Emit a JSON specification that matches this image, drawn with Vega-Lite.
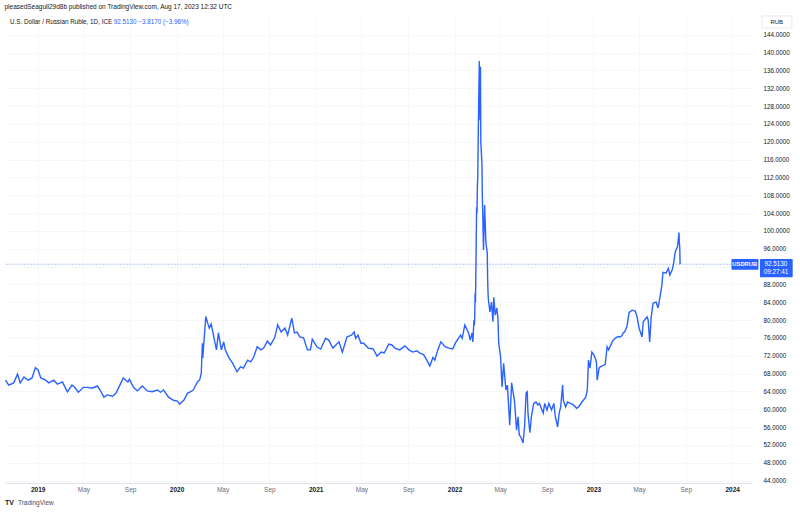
{
  "$schema": "https://vega.github.io/schema/vega-lite/v6.json",
  "width": 747,
  "height": 469,
  "autosize": {"type": "none"},
  "padding": {"left": 5, "top": 14, "right": 48, "bottom": 33},
  "background": "#ffffff",
  "title": {
    "text": "pleasedSeagull29d8b published on TradingView.com, Aug 17, 2023 12:32 UTC",
    "anchor": "start",
    "fontSize": 6.5,
    "fontWeight": "normal",
    "font": "Liberation Sans",
    "color": "#131722",
    "offset": 4
  },
  "config": {
    "view": {"stroke": null},
    "font": "Liberation Sans",
    "axis": {"labelFont": "Liberation Sans"}
  },
  "datasets": {
    "usdrub": [
      {"date": "2018-10-08", "close": 66.5},
      {"date": "2018-10-17", "close": 65.4},
      {"date": "2018-10-30", "close": 65.9},
      {"date": "2018-11-09", "close": 67.9},
      {"date": "2018-11-16", "close": 65.9},
      {"date": "2018-11-26", "close": 67.2},
      {"date": "2018-12-07", "close": 66.5},
      {"date": "2018-12-17", "close": 67.0},
      {"date": "2018-12-26", "close": 69.3},
      {"date": "2019-01-02", "close": 68.8},
      {"date": "2019-01-09", "close": 67.0},
      {"date": "2019-01-22", "close": 66.5},
      {"date": "2019-01-30", "close": 65.9},
      {"date": "2019-02-12", "close": 66.5},
      {"date": "2019-02-22", "close": 65.6},
      {"date": "2019-03-07", "close": 66.1},
      {"date": "2019-03-20", "close": 63.9},
      {"date": "2019-04-01", "close": 65.4},
      {"date": "2019-04-08", "close": 64.9},
      {"date": "2019-04-18", "close": 63.8},
      {"date": "2019-05-01", "close": 64.9},
      {"date": "2019-05-13", "close": 64.9},
      {"date": "2019-05-24", "close": 64.7},
      {"date": "2019-06-07", "close": 65.2},
      {"date": "2019-06-14", "close": 64.3},
      {"date": "2019-06-24", "close": 62.7},
      {"date": "2019-07-03", "close": 63.2},
      {"date": "2019-07-17", "close": 62.9},
      {"date": "2019-07-26", "close": 63.6},
      {"date": "2019-08-05", "close": 65.4},
      {"date": "2019-08-14", "close": 67.0},
      {"date": "2019-08-26", "close": 66.1},
      {"date": "2019-08-30", "close": 66.7},
      {"date": "2019-09-10", "close": 64.9},
      {"date": "2019-09-20", "close": 64.1},
      {"date": "2019-10-03", "close": 65.2},
      {"date": "2019-10-16", "close": 64.1},
      {"date": "2019-10-29", "close": 63.9},
      {"date": "2019-11-12", "close": 64.3},
      {"date": "2019-11-20", "close": 63.8},
      {"date": "2019-11-28", "close": 64.3},
      {"date": "2019-12-11", "close": 62.7},
      {"date": "2019-12-24", "close": 62.0},
      {"date": "2020-01-03", "close": 61.8},
      {"date": "2020-01-09", "close": 61.1},
      {"date": "2020-01-20", "close": 62.0},
      {"date": "2020-01-30", "close": 63.6},
      {"date": "2020-02-06", "close": 63.9},
      {"date": "2020-02-14", "close": 64.3},
      {"date": "2020-02-25", "close": 66.1},
      {"date": "2020-03-02", "close": 66.6},
      {"date": "2020-03-06", "close": 68.0},
      {"date": "2020-03-09", "close": 74.8},
      {"date": "2020-03-10", "close": 71.5},
      {"date": "2020-03-12", "close": 74.0},
      {"date": "2020-03-18", "close": 80.8},
      {"date": "2020-03-23", "close": 79.3},
      {"date": "2020-03-27", "close": 78.2},
      {"date": "2020-04-01", "close": 79.1},
      {"date": "2020-04-07", "close": 76.6},
      {"date": "2020-04-15", "close": 73.3},
      {"date": "2020-04-20", "close": 77.1},
      {"date": "2020-04-28", "close": 73.3},
      {"date": "2020-05-04", "close": 75.1},
      {"date": "2020-05-08", "close": 73.3},
      {"date": "2020-05-18", "close": 71.5},
      {"date": "2020-05-27", "close": 70.4},
      {"date": "2020-06-08", "close": 68.4},
      {"date": "2020-06-17", "close": 69.5},
      {"date": "2020-06-25", "close": 69.2},
      {"date": "2020-07-06", "close": 71.0},
      {"date": "2020-07-14", "close": 70.6},
      {"date": "2020-07-22", "close": 71.7},
      {"date": "2020-07-31", "close": 74.0},
      {"date": "2020-08-10", "close": 73.3},
      {"date": "2020-08-17", "close": 73.7},
      {"date": "2020-08-27", "close": 75.3},
      {"date": "2020-09-04", "close": 74.4},
      {"date": "2020-09-15", "close": 76.0},
      {"date": "2020-09-23", "close": 78.9},
      {"date": "2020-10-02", "close": 77.3},
      {"date": "2020-10-12", "close": 78.2},
      {"date": "2020-10-19", "close": 76.6},
      {"date": "2020-10-30", "close": 80.4},
      {"date": "2020-11-06", "close": 77.1},
      {"date": "2020-11-13", "close": 77.3},
      {"date": "2020-11-20", "close": 76.2},
      {"date": "2020-11-30", "close": 76.0},
      {"date": "2020-12-10", "close": 73.3},
      {"date": "2020-12-18", "close": 73.3},
      {"date": "2020-12-23", "close": 75.7},
      {"date": "2021-01-04", "close": 74.0},
      {"date": "2021-01-14", "close": 73.5},
      {"date": "2021-01-27", "close": 75.9},
      {"date": "2021-02-04", "close": 75.5},
      {"date": "2021-02-15", "close": 73.7},
      {"date": "2021-02-23", "close": 74.4},
      {"date": "2021-03-03", "close": 75.1},
      {"date": "2021-03-12", "close": 72.8},
      {"date": "2021-03-24", "close": 76.2},
      {"date": "2021-04-05", "close": 76.6},
      {"date": "2021-04-12", "close": 77.3},
      {"date": "2021-04-16", "close": 75.9},
      {"date": "2021-04-22", "close": 76.6},
      {"date": "2021-04-30", "close": 74.8},
      {"date": "2021-05-07", "close": 74.8},
      {"date": "2021-05-19", "close": 73.7},
      {"date": "2021-06-01", "close": 73.5},
      {"date": "2021-06-11", "close": 71.9},
      {"date": "2021-06-22", "close": 72.8},
      {"date": "2021-06-30", "close": 72.6},
      {"date": "2021-07-12", "close": 74.6},
      {"date": "2021-07-20", "close": 74.4},
      {"date": "2021-07-28", "close": 73.7},
      {"date": "2021-08-10", "close": 73.3},
      {"date": "2021-08-23", "close": 74.2},
      {"date": "2021-09-03", "close": 73.3},
      {"date": "2021-09-13", "close": 72.8},
      {"date": "2021-09-24", "close": 73.1},
      {"date": "2021-10-01", "close": 72.6},
      {"date": "2021-10-12", "close": 72.2},
      {"date": "2021-10-20", "close": 71.0},
      {"date": "2021-10-28", "close": 69.7},
      {"date": "2021-11-05", "close": 71.6},
      {"date": "2021-11-10", "close": 71.0},
      {"date": "2021-11-18", "close": 73.3},
      {"date": "2021-11-26", "close": 75.1},
      {"date": "2021-12-07", "close": 74.0},
      {"date": "2021-12-17", "close": 73.7},
      {"date": "2021-12-27", "close": 73.5},
      {"date": "2022-01-03", "close": 74.8},
      {"date": "2022-01-11", "close": 75.9},
      {"date": "2022-01-17", "close": 76.6},
      {"date": "2022-01-21", "close": 75.9},
      {"date": "2022-01-28", "close": 78.9},
      {"date": "2022-02-07", "close": 77.1},
      {"date": "2022-02-11", "close": 75.5},
      {"date": "2022-02-16", "close": 77.1},
      {"date": "2022-02-18", "close": 75.1},
      {"date": "2022-02-21", "close": 80.0},
      {"date": "2022-02-22", "close": 78.8},
      {"date": "2022-02-23", "close": 80.5},
      {"date": "2022-02-24", "close": 86.0},
      {"date": "2022-02-25", "close": 84.0},
      {"date": "2022-02-28", "close": 105.3},
      {"date": "2022-03-01", "close": 104.0},
      {"date": "2022-03-02", "close": 110.0},
      {"date": "2022-03-03", "close": 112.0},
      {"date": "2022-03-04", "close": 120.0},
      {"date": "2022-03-07", "close": 138.1},
      {"date": "2022-03-08", "close": 133.0},
      {"date": "2022-03-09", "close": 124.8},
      {"date": "2022-03-10", "close": 136.8},
      {"date": "2022-03-11", "close": 120.0},
      {"date": "2022-03-14", "close": 115.0},
      {"date": "2022-03-15", "close": 108.0},
      {"date": "2022-03-16", "close": 104.0},
      {"date": "2022-03-17", "close": 100.0},
      {"date": "2022-03-18", "close": 95.7},
      {"date": "2022-03-21", "close": 105.8},
      {"date": "2022-03-22", "close": 103.0},
      {"date": "2022-03-23", "close": 100.9},
      {"date": "2022-03-24", "close": 98.0},
      {"date": "2022-03-25", "close": 97.0},
      {"date": "2022-03-28", "close": 95.0},
      {"date": "2022-03-29", "close": 89.0},
      {"date": "2022-03-30", "close": 86.0},
      {"date": "2022-03-31", "close": 84.5},
      {"date": "2022-04-04", "close": 81.8},
      {"date": "2022-04-08", "close": 84.0},
      {"date": "2022-04-12", "close": 79.6},
      {"date": "2022-04-14", "close": 85.1},
      {"date": "2022-04-18", "close": 81.1},
      {"date": "2022-04-22", "close": 82.7},
      {"date": "2022-04-25", "close": 80.4},
      {"date": "2022-04-27", "close": 74.8},
      {"date": "2022-05-02", "close": 71.7},
      {"date": "2022-05-06", "close": 65.0},
      {"date": "2022-05-10", "close": 70.3},
      {"date": "2022-05-16", "close": 64.3},
      {"date": "2022-05-20", "close": 65.4},
      {"date": "2022-05-26", "close": 56.4},
      {"date": "2022-05-31", "close": 65.9},
      {"date": "2022-06-06", "close": 62.7},
      {"date": "2022-06-08", "close": 61.4},
      {"date": "2022-06-13", "close": 55.3},
      {"date": "2022-06-17", "close": 58.3},
      {"date": "2022-06-20", "close": 54.2},
      {"date": "2022-06-24", "close": 53.8},
      {"date": "2022-06-30", "close": 52.4},
      {"date": "2022-07-04", "close": 56.0},
      {"date": "2022-07-08", "close": 63.6},
      {"date": "2022-07-11", "close": 63.9},
      {"date": "2022-07-13", "close": 59.1},
      {"date": "2022-07-18", "close": 54.7},
      {"date": "2022-07-22", "close": 58.3},
      {"date": "2022-07-28", "close": 61.3},
      {"date": "2022-08-03", "close": 61.6},
      {"date": "2022-08-08", "close": 60.9},
      {"date": "2022-08-12", "close": 61.3},
      {"date": "2022-08-22", "close": 59.1},
      {"date": "2022-08-26", "close": 61.3},
      {"date": "2022-09-01", "close": 59.8},
      {"date": "2022-09-06", "close": 61.3},
      {"date": "2022-09-13", "close": 59.8},
      {"date": "2022-09-19", "close": 61.3},
      {"date": "2022-09-23", "close": 58.3},
      {"date": "2022-09-29", "close": 56.0},
      {"date": "2022-10-03", "close": 59.1},
      {"date": "2022-10-07", "close": 60.5},
      {"date": "2022-10-12", "close": 65.4},
      {"date": "2022-10-14", "close": 62.0},
      {"date": "2022-10-20", "close": 60.5},
      {"date": "2022-10-25", "close": 61.6},
      {"date": "2022-11-02", "close": 61.3},
      {"date": "2022-11-10", "close": 60.9},
      {"date": "2022-11-18", "close": 60.2},
      {"date": "2022-11-23", "close": 60.5},
      {"date": "2022-12-02", "close": 61.6},
      {"date": "2022-12-12", "close": 62.7},
      {"date": "2022-12-16", "close": 64.3},
      {"date": "2022-12-19", "close": 71.0},
      {"date": "2022-12-23", "close": 69.2},
      {"date": "2022-12-28", "close": 72.8},
      {"date": "2023-01-03", "close": 72.1},
      {"date": "2023-01-09", "close": 70.6},
      {"date": "2023-01-11", "close": 66.5},
      {"date": "2023-01-16", "close": 69.2},
      {"date": "2023-01-19", "close": 69.5},
      {"date": "2023-01-27", "close": 69.8},
      {"date": "2023-02-01", "close": 70.0},
      {"date": "2023-02-06", "close": 74.0},
      {"date": "2023-02-10", "close": 73.3},
      {"date": "2023-02-20", "close": 75.2},
      {"date": "2023-02-27", "close": 75.9},
      {"date": "2023-03-07", "close": 76.3},
      {"date": "2023-03-13", "close": 76.2},
      {"date": "2023-03-17", "close": 76.5},
      {"date": "2023-03-20", "close": 77.1},
      {"date": "2023-03-24", "close": 77.3},
      {"date": "2023-03-30", "close": 78.5},
      {"date": "2023-04-05", "close": 81.7},
      {"date": "2023-04-13", "close": 82.2},
      {"date": "2023-04-21", "close": 82.0},
      {"date": "2023-04-26", "close": 80.7},
      {"date": "2023-05-01", "close": 78.2},
      {"date": "2023-05-09", "close": 76.2},
      {"date": "2023-05-12", "close": 79.6},
      {"date": "2023-05-22", "close": 80.7},
      {"date": "2023-05-25", "close": 80.0},
      {"date": "2023-05-29", "close": 75.1},
      {"date": "2023-06-02", "close": 80.7},
      {"date": "2023-06-07", "close": 83.8},
      {"date": "2023-06-15", "close": 84.0},
      {"date": "2023-06-20", "close": 82.7},
      {"date": "2023-06-26", "close": 85.6},
      {"date": "2023-06-30", "close": 87.8},
      {"date": "2023-07-03", "close": 90.7},
      {"date": "2023-07-11", "close": 90.5},
      {"date": "2023-07-17", "close": 91.6},
      {"date": "2023-07-21", "close": 90.1},
      {"date": "2023-07-27", "close": 91.2},
      {"date": "2023-07-31", "close": 92.7},
      {"date": "2023-08-04", "close": 95.2},
      {"date": "2023-08-10", "close": 96.5},
      {"date": "2023-08-11", "close": 97.0},
      {"date": "2023-08-14", "close": 99.6},
      {"date": "2023-08-15", "close": 97.4},
      {"date": "2023-08-16", "close": 96.3},
      {"date": "2023-08-17", "close": 92.513}
    ]
  },
  "layer": [
    {
      "data": {"name": "usdrub"},
      "mark": {"type": "line", "color": "#2962FF", "strokeWidth": 1.4, "clip": true},
      "encoding": {
        "x": {
          "field": "date",
          "type": "temporal",
          "scale": {"type": "utc", "domain": [{"year": 2018, "month": 10, "date": 7, "utc": true}, {"year": 2024, "month": 2, "date": 22, "utc": true}]},
          "axis": {
            "title": null,
            "values": [
              {"year": 2019, "month": 1, "date": 1, "utc": true},
              {"year": 2019, "month": 5, "date": 1, "utc": true},
              {"year": 2019, "month": 9, "date": 1, "utc": true},
              {"year": 2020, "month": 1, "date": 1, "utc": true},
              {"year": 2020, "month": 5, "date": 1, "utc": true},
              {"year": 2020, "month": 9, "date": 1, "utc": true},
              {"year": 2021, "month": 1, "date": 1, "utc": true},
              {"year": 2021, "month": 5, "date": 1, "utc": true},
              {"year": 2021, "month": 9, "date": 1, "utc": true},
              {"year": 2022, "month": 1, "date": 1, "utc": true},
              {"year": 2022, "month": 5, "date": 1, "utc": true},
              {"year": 2022, "month": 9, "date": 1, "utc": true},
              {"year": 2023, "month": 1, "date": 1, "utc": true},
              {"year": 2023, "month": 5, "date": 1, "utc": true},
              {"year": 2023, "month": 9, "date": 1, "utc": true},
              {"year": 2024, "month": 1, "date": 1, "utc": true}
            ],
            "tickCount": 40,
            "labelExpr": "utcmonth(datum.value) == 0 ? utcFormat(datum.value, '%Y') : utcFormat(datum.value, '%b')",
            "labelColor": {"condition": {"test": "utcmonth(datum.value) == 0", "value": "#131722"}, "value": "#6a6d78"},
            "labelFontWeight": {"condition": {"test": "utcmonth(datum.value) == 0", "value": "bold"}, "value": "normal"},
            "labelFontSize": 6.5,
            "labelPadding": 3,
            "labelFlush": false,
            "labelOverlap": false,
            "ticks": false,
            "domainColor": "#e0e3eb",
            "gridColor": "#f6f7fa"
          }
        },
        "y": {
          "field": "close",
          "type": "quantitative",
          "scale": {"domain": [43.44, 148.64], "nice": false, "zero": false},
          "axis": {
            "orient": "right",
            "title": null,
            "values": [44, 48, 52, 56, 60, 64, 68, 72, 76, 80, 84, 88, 92, 96, 100, 104, 108, 112, 116, 120, 124, 128, 132, 136, 140, 144],
            "tickCount": 40,
            "format": ".4f",
            "labelFontSize": 6.3,
            "labelColor": "#131722",
            "labelPadding": 11,
            "labelOverlap": false,
            "labelFlush": false,
            "labelExpr": "datum.value == 92 ? '' : datum.label",
            "ticks": false,
            "domain": false,
            "gridColor": "#f6f7fa"
          }
        }
      }
    },
    {
      "data": {"values": [{"price": 92.513}]},
      "mark": {"type": "rule", "color": "#2962FF", "opacity": 0.35, "strokeWidth": 1, "strokeDash": [2, 1]},
      "encoding": {
        "y": {"field": "price", "type": "quantitative"}
      }
    },
    {
      "data": {"values": [{"t": "U.S. Dollar / Russian Ruble, 1D, ICE"}]},
      "mark": {"type": "text", "align": "left", "baseline": "middle", "fontSize": 6.3, "color": "#131722"},
      "encoding": {
        "x": {"datum": {"year": 2018, "month": 10, "date": 20, "utc": true}, "type": "temporal"},
        "y": {"datum": 146.85, "type": "quantitative"},
        "text": {"field": "t"}
      }
    },
    {
      "data": {"values": [{"t": "92.5130  −3.8170 (−3.96%)"}]},
      "mark": {"type": "text", "align": "left", "baseline": "middle", "fontSize": 6.3, "color": "#2962FF"},
      "encoding": {
        "x": {"datum": {"year": 2019, "month": 7, "date": 20, "utc": true}, "type": "temporal"},
        "y": {"datum": 146.85, "type": "quantitative"},
        "text": {"field": "t"}
      }
    },
    {
      "data": {"values": [{"t": "RUB"}]},
      "mark": {"type": "rect", "fill": "#ffffff", "stroke": "#e0e3eb", "strokeWidth": 0.8},
      "encoding": {
        "x": {"datum": {"year": 2024, "month": 3, "date": 19, "utc": true}, "type": "temporal"},
        "x2": {"datum": {"year": 2024, "month": 6, "date": 6, "utc": true}},
        "y": {"datum": 148.2, "type": "quantitative"},
        "y2": {"datum": 145.5}
      }
    },
    {
      "data": {"values": [{"t": "RUB"}]},
      "mark": {"type": "text", "align": "center", "baseline": "middle", "fontSize": 6, "color": "#131722"},
      "encoding": {
        "x": {"datum": {"year": 2024, "month": 4, "date": 27, "utc": true}, "type": "temporal"},
        "y": {"datum": 146.85, "type": "quantitative"},
        "text": {"field": "t"}
      }
    },
    {
      "data": {"values": [{"t": "USDRUB"}]},
      "mark": {"type": "rect", "fill": "#2962FF", "cornerRadius": 1},
      "encoding": {
        "x": {"datum": {"year": 2023, "month": 12, "date": 30, "utc": true}, "type": "temporal"},
        "x2": {"datum": {"year": 2024, "month": 3, "date": 10, "utc": true}},
        "y": {"datum": 93.7, "type": "quantitative"},
        "y2": {"datum": 91.3}
      }
    },
    {
      "data": {"values": [{"t": "USDRUB"}]},
      "mark": {"type": "text", "align": "center", "baseline": "middle", "fontSize": 5.8, "fontWeight": "bold", "color": "#ffffff"},
      "encoding": {
        "x": {"datum": {"year": 2024, "month": 2, "date": 3, "utc": true}, "type": "temporal"},
        "y": {"datum": 92.5, "type": "quantitative"},
        "text": {"field": "t"}
      }
    },
    {
      "data": {"values": [{"t": "92.5130"}]},
      "mark": {"type": "rect", "fill": "#2962FF", "cornerRadius": 1},
      "encoding": {
        "x": {"datum": {"year": 2024, "month": 3, "date": 14, "utc": true}, "type": "temporal"},
        "x2": {"datum": {"year": 2024, "month": 6, "date": 8, "utc": true}},
        "y": {"datum": 93.7, "type": "quantitative"},
        "y2": {"datum": 89.6}
      }
    },
    {
      "data": {"values": [{"t": "92.5130"}]},
      "mark": {"type": "text", "align": "center", "baseline": "middle", "fontSize": 6.3, "color": "#ffffff"},
      "encoding": {
        "x": {"datum": {"year": 2024, "month": 4, "date": 25, "utc": true}, "type": "temporal"},
        "y": {"datum": 92.56, "type": "quantitative"},
        "text": {"field": "t"}
      }
    },
    {
      "data": {"values": [{"t": "09:27:41"}]},
      "mark": {"type": "text", "align": "center", "baseline": "middle", "fontSize": 6.3, "color": "#ffffff"},
      "encoding": {
        "x": {"datum": {"year": 2024, "month": 4, "date": 25, "utc": true}, "type": "temporal"},
        "y": {"datum": 90.77, "type": "quantitative"},
        "text": {"field": "t"}
      }
    },
    {
      "data": {"values": [{"t": "TV"}]},
      "mark": {"type": "text", "align": "left", "baseline": "middle", "fontSize": 7, "fontWeight": "bold", "color": "#131722"},
      "encoding": {
        "x": {"datum": {"year": 2018, "month": 10, "date": 7, "utc": true}, "type": "temporal"},
        "y": {"datum": 38.95, "type": "quantitative"},
        "text": {"field": "t"}
      }
    },
    {
      "data": {"values": [{"t": "TradingView"}]},
      "mark": {"type": "text", "align": "left", "baseline": "middle", "fontSize": 6.5, "color": "#4a4d57"},
      "encoding": {
        "x": {"datum": {"year": 2018, "month": 11, "date": 10, "utc": true}, "type": "temporal"},
        "y": {"datum": 38.95, "type": "quantitative"},
        "text": {"field": "t"}
      }
    }
  ]
}
